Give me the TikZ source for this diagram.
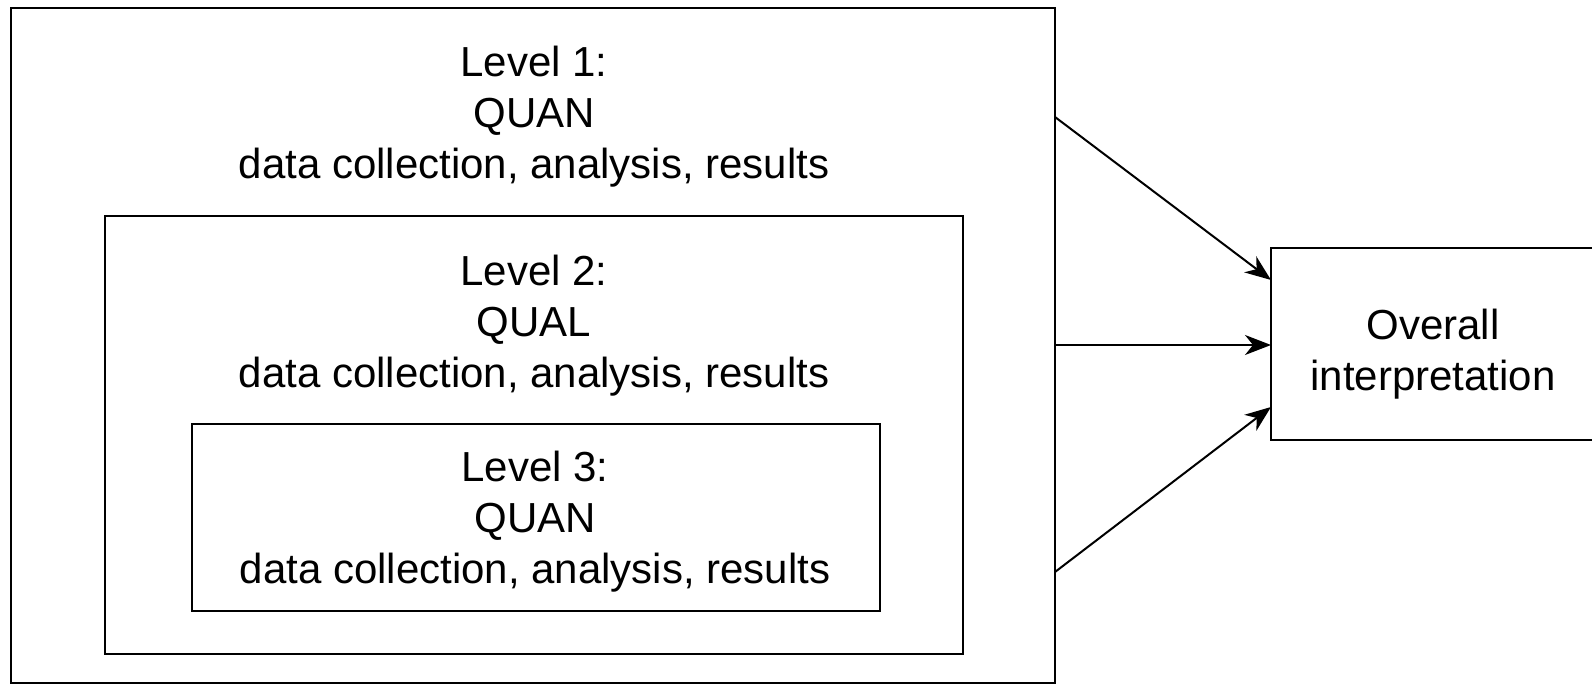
\documentclass[tikz,border=0pt]{standalone}
\usepackage{fontspec}
\setmainfont{Liberation Sans}
\usetikzlibrary{arrows.meta,calc}
\tikzset{
  boxline/.style={draw=black, line width=1.4pt, inner sep=0pt, outer sep=0pt},
  lvltext/.style={align=center, inner sep=0pt, font=\fontsize{21}{25.5}\selectfont},
  conn/.style={line width=1pt, -{Stealth[length=13pt,width=10pt,inset=4pt]}}
}
\begin{document}
\begin{tikzpicture}[x=0.5pt,y=-0.5pt]
\useasboundingbox (0,0) rectangle (1592,684);
\clip (0,0) rectangle (1592,684);
% boxes
\node[boxline, minimum width=522pt, minimum height=337.5pt] (outer) at (533,345.5) {};
\node[boxline, minimum width=429pt, minimum height=219pt] (lvtwo) at (534,435) {};
\node[boxline, minimum width=344pt, minimum height=93.5pt] (lvthree) at (536,517.5) {};
\node[boxline, minimum width=214.5pt, minimum height=96pt] (ovbox) at (1485.5,344) {};
% texts
\node[lvltext] (tone) at (534,117) {Level 1:\\QUAN\\data collection, analysis, results};
\node[lvltext] (ttwo) at (534,326) {Level 2:\\QUAL\\data collection, analysis, results};
\node[lvltext] (tthree) at (535,522) {Level 3:\\QUAN\\data collection, analysis, results};
\node[lvltext] (tov) at (1433,354) {Overall\\interpretation};
% connector end points
\coordinate (sa) at ($(outer.north east)+(0,109)$);
\coordinate (sb) at ($(outer.north east)+(0,337)$);
\coordinate (sc) at ($(outer.north east)+(0,564)$);
\coordinate (ea) at ($(ovbox.north west)+(0,32)$);
\coordinate (eb) at ($(ovbox.north west)+(0,97)$);
\coordinate (ec) at ($(ovbox.north west)+(0,159)$);
\draw[conn] (sa) -- (ea);
\draw[conn] (sb) -- (eb);
\draw[conn] (sc) -- (ec);
\end{tikzpicture}
\end{document}
